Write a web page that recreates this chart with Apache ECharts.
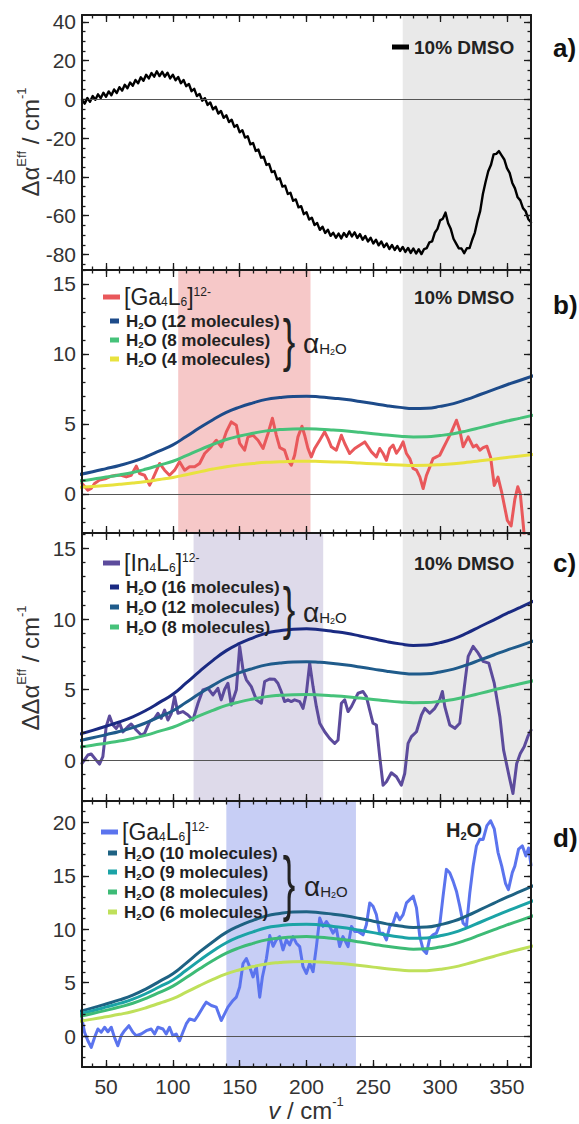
<!DOCTYPE html>
<html><head><meta charset="utf-8">
<script src="https://cdn.jsdelivr.net/npm/echarts@6/dist/echarts.min.js"></script>
<style>html,body{margin:0;padding:0;background:#fff}#c{width:579px;height:1124px}</style>
</head><body><div id="c"></div>
<script>
// ---------------- DATA ----------------
// smooth alpha_H2O model curves (x = wavenumber / cm-1)
const modelX = [30,40,50,60,70,80,90,100,110,120,130,140,150,160,170,180,190,200,210,220,230,240,250,260,270,280,290,300,310,320,330,340,350,360,370];
const h2o4  = [0.46,0.53,0.6,0.68,0.77,0.88,1.02,1.17,1.37,1.57,1.77,1.94,2.07,2.17,2.25,2.29,2.32,2.33,2.31,2.28,2.25,2.2,2.15,2.1,2.06,2.03,2.04,2.08,2.15,2.25,2.37,2.48,2.6,2.71,2.82];
const h2o8  = [0.92,1.05,1.2,1.35,1.53,1.77,2.05,2.33,2.73,3.15,3.53,3.88,4.13,4.33,4.5,4.59,4.64,4.65,4.62,4.56,4.49,4.4,4.3,4.2,4.12,4.07,4.08,4.17,4.3,4.5,4.73,4.97,5.2,5.41,5.63];
const h2o12 = [1.38,1.58,1.8,2.03,2.3,2.65,3.07,3.5,4.1,4.72,5.3,5.82,6.2,6.5,6.75,6.88,6.96,6.98,6.93,6.84,6.74,6.6,6.45,6.3,6.18,6.1,6.12,6.25,6.45,6.75,7.1,7.45,7.8,8.12,8.45];
const h2o16 = [1.84,2.11,2.4,2.71,3.07,3.53,4.09,4.67,5.47,6.29,7.07,7.76,8.27,8.67,9.0,9.17,9.28,9.31,9.24,9.12,8.99,8.8,8.6,8.4,8.24,8.13,8.16,8.33,8.6,9.0,9.47,9.93,10.4,10.83,11.27];
const waterH2o6  = [1.38,1.58,1.8,2.03,2.3,2.65,3.07,3.5,4.1,4.72,5.3,5.82,6.2,6.5,6.75,6.88,6.96,6.98,6.93,6.84,6.74,6.6,6.45,6.3,6.18,6.1,6.12,6.25,6.45,6.75,7.1,7.45,7.8,8.12,8.45];
const waterH2o8  = [1.84,2.11,2.4,2.71,3.07,3.53,4.09,4.67,5.47,6.29,7.07,7.76,8.27,8.67,9.0,9.17,9.28,9.31,9.24,9.12,8.99,8.8,8.6,8.4,8.24,8.13,8.16,8.33,8.6,9.0,9.47,9.93,10.4,10.83,11.27];
const waterH2o9  = [2.07,2.37,2.7,3.05,3.45,3.98,4.61,5.25,6.15,7.08,7.95,8.73,9.3,9.75,10.13,10.32,10.44,10.47,10.4,10.26,10.11,9.9,9.68,9.45,9.27,9.15,9.18,9.38,9.68,10.13,10.65,11.18,11.7,12.18,12.68];
const waterH2o10 = [2.3,2.63,3.0,3.38,3.83,4.42,5.12,5.83,6.83,7.87,8.83,9.7,10.33,10.83,11.25,11.47,11.6,11.63,11.55,11.4,11.23,11.0,10.75,10.5,10.3,10.17,10.2,10.42,10.75,11.25,11.83,12.42,13.0,13.53,14.08];

// panel a: 10% DMSO
const aX = [32,34,36,38,40,42,44,46,48,50,52,54,56,58,60,62,64,66,68,70,72,74,76,78,80,82,84,86,88,90,92,94,96,98,100,102,104,106,108,110,112,114,116,118,120,122,124,126,128,130,132,134,136,138,140,142,144,146,148,150,152,154,156,158,160,162,164,166,168,170,172,174,176,178,180,182,184,186,188,190,192,194,196,198,200,202,204,206,208,210,212,214,216,218,220,222,224,226,228,230,232,234,236,238,240,242,244,246,248,250,252,254,256,258,260,262,264,266,268,270,272,274,276,278,280,282,284,286,288,290,292,294,296,298,300,302,304,306,308,310,312,314,316,318,320,322,324,326,328,330,332,334,336,338,340,342,344,346,348,350,352,354,356,358,360,362,364,366,368];
const aY = [-0.3,-2.2,0.7,-1.2,1.7,-0.2,2.6,0.6,3.4,1.3,4.1,2.1,5.1,3.3,6.3,4.5,7.5,5.7,8.7,7.0,10.0,8.3,11.4,9.6,12.7,10.8,13.6,11.7,14.5,12.0,14.2,11.7,13.7,10.8,12.7,9.8,11.5,8.3,10.0,6.8,7.9,4.2,5.4,1.7,2.8,-0.7,0.6,-2.9,-1.6,-5.2,-3.8,-7.3,-6.0,-9.5,-8.2,-11.7,-10.5,-14.2,-13.2,-17.0,-15.9,-19.7,-19.0,-23.2,-22.5,-26.6,-25.9,-30.1,-29.6,-33.8,-33.3,-37.5,-37.0,-41.3,-40.7,-45.0,-44.5,-48.8,-48.2,-52.3,-51.6,-55.7,-55.1,-59.2,-58.2,-62.0,-61.0,-64.8,-63.8,-67.3,-65.7,-68.9,-67.2,-70.4,-68.8,-71.4,-69.2,-71.7,-68.9,-70.9,-68.1,-70.7,-68.6,-71.5,-69.5,-72.4,-70.5,-73.3,-71.4,-74.3,-72.4,-75.3,-73.3,-76.2,-74.3,-77.2,-75.1,-77.7,-75.6,-78.2,-76.1,-78.7,-76.6,-79.2,-76.9,-79.5,-77.3,-79.8,-77.2,-76.7,-73.7,-73.2,-68.8,-66.8,-62.4,-61.6,-58.4,-63.9,-66.9,-71.9,-74.4,-76.8,-76.9,-79.3,-76.8,-76.7,-72.4,-68.7,-62.5,-57.5,-48.8,-42.6,-37.1,-33.9,-28.4,-28.1,-26.7,-28.9,-31.0,-35.5,-37.9,-43.1,-45.9,-50.5,-52.1,-56.1,-57.7,-61.8,-63.4];

// panel b: [Ga4L6]12- in 10% DMSO
const gaDmsoX = [32,36.4,38.9,41.4,45.1,50.1,53.9,57.6,61.3,65.1,68.8,72.6,75.1,78.8,82.6,85.1,90.1,93.8,97.5,101.3,105,108.8,112.5,116.3,120,123.8,127.5,132.5,136.2,140,143.7,147.5,150,153.7,156.2,160,163.7,167.5,171.2,174.5,177.4,180,183.6,186.1,188.6,191.1,193.6,196.6,198.6,201.1,203.6,206.1,209.9,213.6,216.1,218.6,222.3,226.1,228.6,232.3,236.1,239.8,243.6,246.1,248.6,252.3,254.8,257.3,259.8,262.3,264.8,267.3,269.8,272.3,274.8,277.3,279.8,282.3,284.8,287.3,289.8,292.3,294.7,297.2,299.7,302.2,304.7,308.5,312.2,314.7,317.2,321,324.7,327.2,329.7,332.2,335,337.8,340.5,343.3,346.1,350.3,353.1,355.9,358.1,360,362.3,363.4,365];
const gaDmsoY = [0.74,0.26,0.38,0.74,0.98,1.1,1.26,1.33,1.33,1.21,1.33,1.98,1.45,1.33,0.62,1.1,2.17,1.69,1.33,1.69,2.29,1.69,1.93,1.93,2.17,2.88,3.24,3.83,3.36,4.43,5.14,4.9,3.6,3.12,4.07,4.19,3.83,3.24,4.31,5.4,4.2,3.3,3.12,2.4,2.05,2.76,4.07,4.83,4.19,3.24,2.64,3.24,3.83,4.43,3.95,3.36,3.12,4.19,3.6,2.88,3.24,3.48,3.71,3.36,3.0,2.64,3.24,2.88,2.4,3.24,3.48,2.9,3.24,3.71,2.88,2.52,1.81,1.69,1.21,0.38,1.33,1.93,2.52,2.64,2.76,3.24,3.71,4.43,5.26,4.55,3.36,4.07,3.36,3.48,3.12,3.3,3.4,2.6,0.6,1.2,0.1,-1.9,-2.3,-0.4,0.5,0.0,-2.3,-3.5,-5];

// panel c: [In4L6]12- in 10% DMSO
const inDmsoX = [32,34.5,36.4,38.9,42.6,45.1,47.6,50.1,52.6,55.1,57.6,60.1,62.6,66.3,68.8,72.6,76.3,78.8,82.6,86.3,88.8,91.3,93.8,96.3,98.8,101.3,103.8,107.5,111.3,115,118.8,122.5,126.3,130,133.7,136.2,138.7,141.2,143.7,147.5,150,152.5,155,158.7,162.5,166.2,168.7,172.4,176.1,178.6,181.1,183.6,186.1,188.6,191.1,194.9,197.4,199.9,202.4,204.9,207.4,209.9,213.6,217.3,221.1,223.6,226.1,228.6,231.1,233.6,236.1,238.6,242.3,244.8,247.3,249.8,252.3,254.8,257.3,259.8,263.5,267.3,271,273.5,276,278.5,282.3,286,288.5,292.2,296,299.7,301.7,303.5,307.2,311,314.7,317.2,321,324.7,328.5,332.2,336.4,340.5,344.7,347.5,351.7,354.5,357.3,360,362.9,365.6,368];
const inDmsoY = [-0.24,0.1,0.36,0.43,0.0,-0.28,0.24,2.37,3.13,2.49,2.25,2.6,2.0,2.37,2.56,2.13,1.78,1.9,2.73,2.96,3.32,2.96,3.55,2.84,3.3,4.5,3.32,3.44,3.2,2.84,4.03,4.98,5.09,4.62,5.09,4.27,5.0,5.45,3.91,4.98,8.06,6.4,5.69,5.21,4.27,4.03,5.57,5.75,5.73,5.45,4.86,4.15,4.27,4.15,4.27,4.15,3.67,4.74,6.87,5.21,3.79,2.61,2.01,1.54,1.18,1.42,4.03,4.27,3.44,3.79,4.27,4.74,4.86,4.5,3.55,2.61,2.49,0.24,-1.78,-1.54,-0.9,-1.18,-1.78,-0.95,1.18,1.66,2.01,3.2,3.67,3.32,3.67,4.27,4.86,3.79,2.49,2.25,2.61,4.5,7.35,8.06,7.58,7.0,6.87,5.45,3.08,0.71,-1.18,-2.37,-0.24,0.47,0.95,1.66,2.13];

// panel d: [Ga4L6]12- in H2O
const gaWaterX = [32,33.9,36.4,38.9,41.4,43.9,46.4,48.9,51.4,53.9,56.3,58.8,61.3,63.8,67.1,70.1,72.6,76.3,80.1,83.8,86.3,88.8,92.6,95,97.5,100,102.5,105,107.5,110,112.5,116.3,118.8,122.5,125,128.8,132.5,136.2,138.7,141.2,145,147.5,150,152.5,155,157.5,160,162.5,165,167,170,172.5,175,177.4,179.9,182.4,184.9,187.4,189.9,192.4,194.9,197.4,199.9,202.4,204.9,207.4,209.9,212.4,214.9,217.3,219.8,222.3,224.8,227.3,231.1,233.6,236.1,238.6,242.3,244.8,247.3,249.8,252.3,254.8,257.3,259.8,262.3,264.8,267.3,269.8,272.3,274.8,277.3,279.8,282.3,284.8,287.3,289.8,292.2,294.7,297.2,299.7,302.2,304.7,307.2,309.7,312.2,314.7,317.2,319.7,322.2,324.7,327.2,329.7,332.2,335,337.8,340.5,343.3,346.1,348.9,351.1,354,355.9,358.7,361.5,364.2,366.2,368];
const gaWaterY = [1.6,0.35,-0.44,-1.07,-0.13,0.66,0.35,0.82,0.4,0.82,-0.13,-0.91,0.03,0.5,0.97,0.35,0.03,0.19,0.5,0.66,0.19,0.82,0.66,0.19,0.82,0.03,0.19,-0.44,0.35,1.13,1.6,1.45,1.92,2.7,3.17,2.86,2.7,1.45,2.07,2.7,3.33,3.64,4.59,6.79,7.26,6.47,5.53,6.47,3.64,5.53,7.26,9.4,8.4,9.0,9.31,8.06,9.0,8.53,9.31,8.69,8.37,6.49,5.86,6.8,6.02,8.37,11.04,10.26,10.72,10.26,9.63,10.1,8.37,9.31,8.37,10.26,9.79,9.79,9.47,10.41,12.46,12.15,11.36,9.63,9.63,9.0,10.26,10.57,11.51,10.88,11.36,12.46,12.77,13.09,11.99,9.31,8.06,7.74,9.16,9.47,9.63,10.41,13.09,15.6,15.28,14.5,13.56,12.15,10.57,10.26,13.4,15.91,17.8,18.43,18.4,19.7,20.15,19.4,17.2,15.9,14.3,13.7,15.3,15.9,17.5,17.8,16.85,17.6,16.0];

// shaded wavenumber ranges
const shadeDmso = [272, 368];
const shadeB = [104, 203];
const shadeC = [115.5, 212.5];
const shadeD = [140, 237];

// ticks
const xMajorTicks = [50,100,150,200,250,300,350];
const xMinorTicks = [40,50,60,70,80,90,100,110,120,130,140,150,160,170,180,190,200,210,220,230,240,250,260,270,280,290,300,310,320,330,340,350,360];
const yMajorA = [-80,-60,-40,-20,0,20,40];
const yMinorA = [-85,-80,-75,-70,-65,-60,-55,-50,-45,-40,-35,-30,-25,-20,-15,-10,-5,0,5,10,15,20,25,30,35,40];
const yMajorBC = [0,5,10,15];
const yMinorBC = [-2,-1,0,1,2,3,4,5,6,7,8,9,10,11,12,13,14,15,16];
const yMajorD = [0,5,10,15,20];
const yMinorD = [-2,-1,0,1,2,3,4,5,6,7,8,9,10,11,12,13,14,15,16,17,18,19,20,21,22];
const molB = [12, 8, 4];
const molC = [16, 12, 8];
const molD = [10, 9, 8, 6];

// ---------------- CHART ----------------
const FONT = "'Liberation Sans', Arial, Helvetica, sans-serif";
const INK = '#222';
const AX = '#1a1a1a';
const zip = (xs, ys) => xs.map((x, i) => [x, ys[i]]);

const panels = [
  {top: 15,  height: 255, min: -88,  max: 43.5, maj: yMajorA,  mnr: yMinorA},
  {top: 270, height: 263, min: -2.8, max: 16,   maj: yMajorBC, mnr: yMinorBC},
  {top: 533, height: 268, min: -2.9, max: 16.1, maj: yMajorBC, mnr: yMinorBC},
  {top: 801, height: 266, min: -2.9, max: 22,   maj: yMajorD,  mnr: yMinorD}
];
const grid = panels.map(p => ({left: 82, right: 48, top: p.top, height: p.height}));

const xAxis = [], yAxis = [];
panels.forEach((p, i) => {
  ['bottom', 'top'].forEach(pos => {
    const base = {type: 'value', gridIndex: i, position: pos, min: 32, max: 368, z: 10, splitLine: {show: false}};
    xAxis.push(Object.assign({}, base, {
      axisLine: {show: true, onZero: false, lineStyle: {color: AX, width: 2}},
      axisTick: {show: true, inside: true, length: 3.5, customValues: xMinorTicks, lineStyle: {color: AX, width: 1.3}},
      axisLabel: (i === 3 && pos === 'bottom')
        ? {show: true, customValues: xMajorTicks, fontSize: 21, color: '#333', fontFamily: FONT, margin: 9}
        : {show: false}
    }));
    xAxis.push(Object.assign({}, base, {
      axisLine: {show: false, onZero: false},
      axisTick: {show: true, inside: true, length: 7, customValues: xMajorTicks, lineStyle: {color: AX, width: 1.3}},
      axisLabel: {show: false}
    }));
  });
  ['left', 'right'].forEach(pos => {
    const base = {type: 'value', gridIndex: i, position: pos, min: p.min, max: p.max, z: 10, splitLine: {show: false}};
    yAxis.push(Object.assign({}, base, {
      axisLine: {show: true, onZero: false, lineStyle: {color: AX, width: 2}},
      axisTick: {show: true, inside: true, length: 3.5, customValues: p.mnr, lineStyle: {color: AX, width: 1.3}},
      axisLabel: pos === 'left'
        ? {show: true, customValues: p.maj, fontSize: 21, color: '#333', fontFamily: FONT, margin: 6}
        : {show: false}
    }));
    yAxis.push(Object.assign({}, base, {
      axisLine: {show: false, onZero: false},
      axisTick: {show: true, inside: true, length: 7, customValues: p.maj, lineStyle: {color: AX, width: 1.3}},
      axisLabel: {show: false}
    }));
  });
});

function frameSeries(i, areas) {
  return {
    type: 'line', xAxisIndex: 4 * i, yAxisIndex: 4 * i, data: [], z: 1, silent: true, animation: false,
    markArea: {silent: true, data: areas.map(a => [
      {xAxis: a.r[0], itemStyle: {color: a.c, opacity: 1, borderWidth: 0}}, {xAxis: a.r[1]}
    ])},
    markLine: {silent: true, symbol: ['none', 'none'], label: {show: false}, animation: false,
      lineStyle: {color: '#555', width: 1, type: 'solid'}, data: [{yAxis: 0}]}
  };
}
function line(i, data, color, width, smooth, z) {
  return {type: 'line', xAxisIndex: 4 * i, yAxisIndex: 4 * i, data, symbol: 'none', showSymbol: false,
    smooth: smooth, clip: true, animation: false, z: z || 3, silent: true,
    lineStyle: {color, width, join: 'round', cap: 'round'}};
}

const C = {
  gray: '#e9e9e9', pink: '#f6c8c8', lav: '#dedaea', peri: '#c7cef5',
  red: '#e9585b', b12: '#1d4b8a', green: '#46c27a', yellow: '#e8e23e',
  purple: '#5c4b9c', navy: '#1a2a82', c12: '#1f5b8b',
  blue: '#5b74ee', d10: '#1e6283', d9: '#1ba3a6', d8: '#3dbb76', d6: '#bfe05a'
};

const series = [
  frameSeries(0, [{r: shadeDmso, c: C.gray}]),
  line(0, zip(aX, aY), '#000', 2.4, false),

  frameSeries(1, [{r: shadeDmso, c: C.gray}, {r: shadeB, c: C.pink}]),
  line(1, zip(gaDmsoX, gaDmsoY), C.red, 3, false),
  line(1, zip(modelX, h2o12), C.b12, 3, true, 4),
  line(1, zip(modelX, h2o8), C.green, 3, true, 4),
  line(1, zip(modelX, h2o4), C.yellow, 3, true, 4),

  frameSeries(2, [{r: shadeDmso, c: C.gray}, {r: shadeC, c: C.lav}]),
  line(2, zip(inDmsoX, inDmsoY), C.purple, 3, false),
  line(2, zip(modelX, h2o16), C.navy, 3, true, 4),
  line(2, zip(modelX, h2o12), C.c12, 3, true, 4),
  line(2, zip(modelX, h2o8), C.green, 3, true, 4),

  frameSeries(3, [{r: shadeD, c: C.peri}]),
  line(3, zip(gaWaterX, gaWaterY), C.blue, 3, false),
  line(3, zip(modelX, waterH2o10), C.d10, 3, true, 4),
  line(3, zip(modelX, waterH2o9), C.d9, 3, true, 4),
  line(3, zip(modelX, waterH2o8), C.d8, 3, true, 4),
  line(3, zip(modelX, waterH2o6), C.d6, 3, true, 4)
];

// ---------------- TEXT / LEGENDS ----------------
function rs(size, weight, va, lh, extra) {
  return Object.assign({fontFamily: FONT, fontSize: size, fontWeight: weight || 'normal', fill: INK, color: INK,
    verticalAlign: va || 'middle', lineHeight: lh || size}, extra || {});
}
const richRow = {t: rs(17, 'bold', 'middle', 18), s: rs(9.5, 'bold', 'bottom', 8)};
const richTitle = {L: rs(23, 'normal', 'middle', 22), Ls: rs(12, 'normal', 'bottom', 10), Lp: rs(12, 'normal', 'top', 10)};
const richAlpha = {a: rs(28, 'normal', 'middle', 26), as: rs(15, 'normal', 'bottom', 13), ass: rs(9, 'normal', 'bottom', 8)};
const richAxis = {n: rs(24, 'normal', 'middle', 30, {fill: '#333', color: '#333'}),
  i: rs(24, 'normal', 'middle', 30, {fill: '#333', color: '#333', fontStyle: 'italic'}),
  p: rs(13, 'normal', 'top', 13, {fill: '#333', color: '#333'})};
const richH2O = {h: rs(20, 'bold', 'middle', 22), hs: rs(11, 'bold', 'bottom', 10)};

function txt(x, y, text, rich, opts) {
  const o = opts || {};
  return {type: 'text', x, y, z: 100, silent: true, rotation: o.rotation || 0,
    scaleX: o.scaleX || 1, scaleY: o.scaleY || 1,
    style: {text, rich: rich || undefined, fill: o.fill || INK,
      font: o.font || ('16px ' + FONT), align: o.align || 'left', verticalAlign: 'middle'}};
}
function rect(x, y, w, h, color) {
  return {type: 'rect', z: 100, silent: true, shape: {x, y: y - h / 2, width: w, height: h}, style: {fill: color}};
}
function rowText(n) { return '{t|H}{s|2}{t|O (' + n + ' molecules)}'; }
const alphaText = '{a|α}{as|H}{ass|2}{as|O}';
const bold19 = 'bold 19px ' + FONT;
const bold26 = 'bold 26px ' + FONT;

const graphic = [
  // panel a
  rect(392, 47, 17, 5, '#000'),
  txt(414, 47, '10% DMSO', null, {font: bold19}),
  txt(553, 48, 'a)', null, {font: bold26, fill: '#111'}),
  txt(30, 142, '{n|Δα}{p|Eff}{n| / cm}{p|-1}', richAxis, {rotation: Math.PI / 2, align: 'center'}),
  // panel b
  txt(414, 297.5, '10% DMSO', null, {font: bold19}),
  txt(553, 305, 'b)', null, {font: bold26, fill: '#111'}),
  rect(103, 297, 17, 5, C.red),
  txt(124, 297, '{L|[Ga}{Ls|4}{L|L}{Ls|6}{L|]}{Lp|12-}', richTitle),
  rect(110, 321, 9, 5, C.b12), txt(126, 321, rowText(molB[0]), richRow),
  rect(110, 340, 9, 5, C.green), txt(126, 340, rowText(molB[1]), richRow),
  rect(110, 359, 9, 5, C.yellow), txt(126, 359, rowText(molB[2]), richRow),
  txt(289, 340, '}', null, {font: '44px ' + FONT, align: 'center', scaleY: 1.3, scaleX: 0.85}),
  txt(303, 343, alphaText, richAlpha),
  // panel c
  txt(414, 563, '10% DMSO', null, {font: bold19}),
  txt(553, 563, 'c)', null, {font: bold26, fill: '#111'}),
  rect(103, 563, 17, 5, C.purple),
  txt(124, 563, '{L|[In}{Ls|4}{L|L}{Ls|6}{L|]}{Lp|12-}', richTitle),
  rect(110, 587, 9, 5, C.navy), txt(126, 587, rowText(molC[0]), richRow),
  rect(110, 607, 9, 5, C.c12), txt(126, 607, rowText(molC[1]), richRow),
  rect(110, 627, 9, 5, C.green), txt(126, 627, rowText(molC[2]), richRow),
  txt(289, 608, '}', null, {font: '44px ' + FONT, align: 'center', scaleY: 1.3, scaleX: 0.85}),
  txt(303, 612, alphaText, richAlpha),
  txt(30, 668, '{n|ΔΔα}{p|Eff}{n| / cm}{p|-1}', richAxis, {rotation: Math.PI / 2, align: 'center'}),
  // panel d
  txt(446, 830, '{h|H}{hs|2}{h|O}', richH2O),
  txt(553, 838, 'd)', null, {font: bold26, fill: '#111'}),
  rect(101, 832, 17, 5, C.blue),
  txt(122, 832, '{L|[Ga}{Ls|4}{L|L}{Ls|6}{L|]}{Lp|12-}', richTitle),
  rect(108, 853, 9, 5, C.d10), txt(124, 853, rowText(molD[0]), richRow),
  rect(108, 872, 9, 5, C.d9), txt(124, 872, rowText(molD[1]), richRow),
  rect(108, 892, 9, 5, C.d8), txt(124, 892, rowText(molD[2]), richRow),
  rect(108, 912, 9, 5, C.d6), txt(124, 912, rowText(molD[3]), richRow),
  txt(289, 882, '}', null, {font: '44px ' + FONT, align: 'center', scaleY: 1.65, scaleX: 0.85}),
  txt(304, 886, alphaText, richAlpha),
  // x title
  txt(306, 1110, '{i|v}{n| / cm}{p|-1}', richAxis, {align: 'center'})
];

const chart = echarts.init(document.getElementById('c'), null, {renderer: 'svg', width: 579, height: 1124});
chart.setOption({
  animation: false,
  backgroundColor: '#fff',
  grid, xAxis, yAxis, series, graphic
});
</script></body></html>
